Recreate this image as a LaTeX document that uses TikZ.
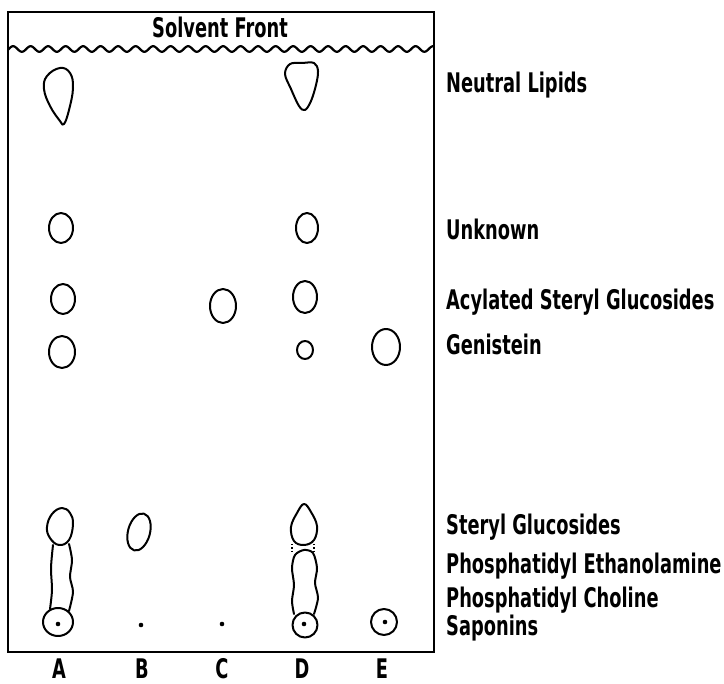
\documentclass[tikz,border=0pt]{standalone}
\usepackage{fontspec}
\newfontfamily\lab{DejaVu Sans}[FakeStretch=0.66]
\begin{document}
\begin{tikzpicture}[x=1pt,y=-1pt,
  spot/.style={line width=2pt, line join=round, line cap=round},
  lbl/.style={font=\lab\bfseries\fontsize{27}{30}\selectfont, anchor=base west, inner sep=0pt},
  lane/.style={font=\lab\bfseries\fontsize{27}{30}\selectfont, anchor=base, inner sep=0pt},
  trace/.style={line width=1.3pt, dash pattern=on 1.3pt off 2pt}]
\useasboundingbox (0,0) rectangle (724,684);

% plate and solvent front
\draw[line width=2pt] (8,12) rectangle (434,652);
\draw[line width=2.2pt] plot[domain=8:434, samples=400, smooth] (\x,{49+2.8*sin(\x/17.5*360)});
\node[lane] (front) at (220,38) {Solvent Front};

% neutral lipids
\draw[spot] plot[smooth cycle, tension=0.7] coordinates {(60,68) (70,73) (73,88) (69,110) (64,124) (60,121) (50,106) (44,89) (47,76)};
\draw[spot] plot[smooth cycle, tension=0.6] coordinates {(290,64) (302,63) (314,63) (318,71) (316,85) (311,101) (305,110) (299,106) (291,89) (285,74)};

% unknown
\draw[spot] (61,228) ellipse[x radius=12, y radius=15];
\draw[spot] (307,228) ellipse[x radius=11, y radius=15];

% acylated steryl glucosides
\draw[spot] (63,299) ellipse[x radius=12, y radius=15];
\draw[spot] (223,306) ellipse[x radius=13, y radius=17];
\draw[spot] (305,297) ellipse[x radius=12, y radius=16];

% genistein
\draw[spot] (62,352) ellipse[x radius=13, y radius=16];
\draw[spot] (305,350) ellipse[x radius=8, y radius=9];
\draw[spot] (386,347) ellipse[x radius=14, y radius=18];

% lane A, lower part
\draw[spot] plot[smooth cycle, tension=0.7] coordinates {(62,508) (70,513) (73,524) (69,540) (59,545) (50,538) (47,527) (52,514)};
\draw[spot] plot[smooth] coordinates {(53,545) (51,568) (52,590) (50,609)};
\draw[spot] plot[smooth] coordinates {(69,544) (72,560) (70,577) (73,592) (69,611)};
\draw[spot] (58,622) ellipse[x radius=15, y radius=14];
\fill (58,624) circle[radius=2.3];

% lane B
\draw[spot, rotate around={-15:(139,532)}] (139,532) ellipse[x radius=11, y radius=19];
\fill (141,625) circle[radius=2.3];

% lane C
\fill (222,624) circle[radius=2.3];

% lane D, lower part
\draw[spot] plot[smooth cycle, tension=0.65] coordinates {(304,504) (311,512) (317,526) (314,540) (304,545) (294,541) (291,527) (297,513)};
\draw[trace] (292,544) -- (292,552);
\draw[trace] (314,544) -- (314,552);
\draw[spot] plot[smooth] coordinates {(294,614) (292,601) (294,585) (292,568) (295,555) (304,550) (313,553) (317,568) (315,583) (318,598) (314,614)};
\draw[spot] (305,625) circle[radius=12.5];
\fill (304,624) circle[radius=2.3];

% lane E
\draw[spot] (384,622) circle[radius=13];
\fill (385,622) circle[radius=2.3];

% compound labels
\node[lbl] (nl) at (446,93) {Neutral Lipids};
\node[lbl] (unk) at (446,240) {Unknown};
\node[lbl] (asg) at (446,310) {Acylated Steryl Glucosides};
\node[lbl] (gen) at (446,355) {Genistein};
\node[lbl] (sg) at (446,535) {Steryl Glucosides};
\node[lbl] (pe) at (446,574) {Phosphatidyl Ethanolamine};
\node[lbl] (pc) at (446,608) {Phosphatidyl Choline};
\node[lbl] (sap) at (446,636) {Saponins};

% lane letters
\node[lane] (la) at (59,679) {A};
\node[lane] (lb) at (142,679) {B};
\node[lane] (lc) at (222,679) {C};
\node[lane] (ld) at (302,679) {D};
\node[lane] (le) at (382,679) {E};
\end{tikzpicture}
\end{document}
